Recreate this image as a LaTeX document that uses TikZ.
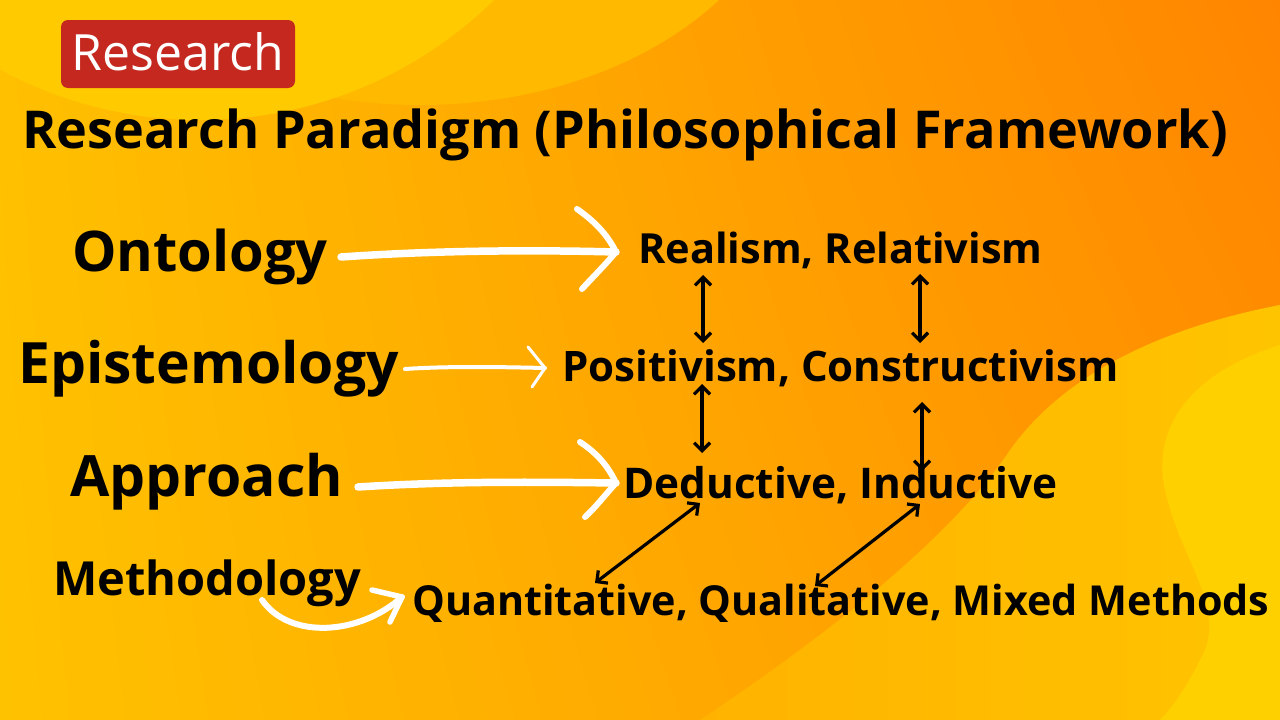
\documentclass[tikz,border=0pt]{standalone}
\usepackage{fontspec}
\setmainfont{Open Sans}
\usetikzlibrary{arrows.meta,calc,shadings}
\definecolor{bgUL}{HTML}{FFC000}
\definecolor{bgUR}{HTML}{FF8500}
\definecolor{bgLL}{HTML}{FFC200}
\definecolor{bgLR}{HTML}{FF9400}
\definecolor{blobA}{HTML}{FFBA00}
\definecolor{blobB}{HTML}{FFCB00}
\definecolor{blobC1}{HTML}{FFB300}
\definecolor{blobC2}{HTML}{FFC400}
\definecolor{blobD}{HTML}{FFD000}
\definecolor{badgered}{HTML}{C4281F}
\begin{document}
\begin{tikzpicture}[x=1pt,y=-1pt,
  lbl/.style={inner sep=0pt, anchor=base west, text=black},
  big/.style={lbl, font=\fontsize{57}{64}\selectfont\bfseries},
  mid/.style={lbl, font=\fontsize{41.5}{48}\selectfont\bfseries},
  wbrush/.style={draw=white, line width=7.5pt, line cap=round, line join=round},
  wthin/.style={draw=white, line width=4pt, line cap=round, line join=round},
  link/.style={draw=black, line width=3.2pt, {Straight Barb[length=8pt,width=16pt]}-{Straight Barb[length=8pt,width=16pt]}}
]
\useasboundingbox (0,0) rectangle (1280,720);
% background
\shade[upper left=bgUL, upper right=bgUR, lower left=bgLL, lower right=bgLR] (0,0) rectangle (1280,720);
\fill[blobA] (420,-160) ellipse [x radius=375, y radius=265];
\fill[blobB] (200,-300) circle [radius=420];
\shade[left color=blobC1, right color=blobC2] (1280,305) .. controls (1150,330) and (1060,380) .. (1010,450)
  .. controls (950,540) and (820,640) .. (700,720) -- (1280,720) -- cycle;
\fill[blobD] (1280,345) .. controls (1200,370) and (1150,420) .. (1165,490)
  .. controls (1180,560) and (1230,610) .. (1200,660) .. controls (1185,690) and (1170,710) .. (1160,720) -- (1280,720) -- cycle;
% badge
\node[fill=badgered, rounded corners=7pt, minimum width=234pt, minimum height=68pt, inner sep=0pt] (badge) at (178,54) {};
\node[inner sep=0pt, anchor=base, text=white, font=\fontsize{50}{56}\selectfont] (badgetext) at (178,70) {Research};
% title
\node[lbl, font=\fontsize{52.2}{60}\selectfont\bfseries] (title) at (22,148) {Research Paradigm (Philosophical Framework)};
% left labels
\node[big, font=\fontsize{56}{64}\selectfont\bfseries] (ont) at (72,271) {Ontology};
\node[big] (epi) at (18,383) {Epistemology};
\node[big] (app) at (70,496) {Approach};
\node[lbl, font=\fontsize{47}{54}\selectfont\bfseries] (meth) at (53,595) {Methodology};
% right labels
\node[mid] (real) at (638,263) {Realism, Relativism};
\node[mid, font=\fontsize{42}{48}\selectfont\bfseries] (posi) at (562,381) {Positivism, Constructivism};
\node[mid, font=\fontsize{42.3}{48}\selectfont\bfseries] (dedu) at (623,498) {Deductive, Inductive};
\node[mid, font=\fontsize{41.3}{48}\selectfont\bfseries] (quan) at (412,615) {Quantitative, Qualitative, Mixed Methods};
% white arrow points
\coordinate (o1) at (341,257); \coordinate (o2) at (616,252);
\coordinate (o3) at (577,209); \coordinate (o4) at (582,289);
\coordinate (e1) at (405,369); \coordinate (e2) at (545,368);
\coordinate (e3) at (528,347); \coordinate (e4) at (532,387);
\coordinate (p1) at (358,487); \coordinate (p2) at (616,483);
\coordinate (p3) at (580,442); \coordinate (p4) at (585,517);
\coordinate (m1) at (262,600); \coordinate (m2) at (402,597);
\coordinate (m3) at (372,590); \coordinate (m4) at (390,622);
% white arrows
\draw[wbrush] (o1) .. controls (440,250) and (540,250) .. (o2);
\draw[wbrush, line width=6pt] (o3) .. controls (600,225) and (610,240) .. (o2) .. controls (605,265) and (592,278) .. (o4);
\draw[wthin] (e1) .. controls (450,366) and (500,367) .. (e2);
\draw[wthin, line width=3pt] (e3) -- (e2) -- (e4);
\draw[wbrush] (p1) .. controls (450,481) and (540,482) .. (p2);
\draw[wbrush, line width=6pt] (p3) .. controls (600,455) and (610,470) .. (p2) .. controls (605,495) and (595,508) .. (p4);
\draw[wbrush, line width=6pt] (m1) .. controls (290,640) and (360,635) .. (m2);
\draw[wbrush, line width=5.5pt] (m3) -- (m2) -- (m4);
% black link coordinates
\coordinate (v1a) at (703,275); \coordinate (v1b) at (703,343);
\coordinate (v2a) at (920,274); \coordinate (v2b) at (920,343);
\coordinate (v3a) at (702,384); \coordinate (v3b) at (702,453);
\coordinate (v4a) at (922,402); \coordinate (v4b) at (922,471);
\coordinate (d1a) at (700,503); \coordinate (d1b) at (595,583);
\coordinate (d2a) at (920,504); \coordinate (d2b) at (815,586);
\draw[link] (v1a) -- (v1b);
\draw[link] (v2a) -- (v2b);
\draw[link] (v3a) -- (v3b);
\draw[link] (v4a) -- (v4b);
\draw[link] (d1a) -- (d1b);
\draw[link] (d2a) -- (d2b);
\end{tikzpicture}
\end{document}
